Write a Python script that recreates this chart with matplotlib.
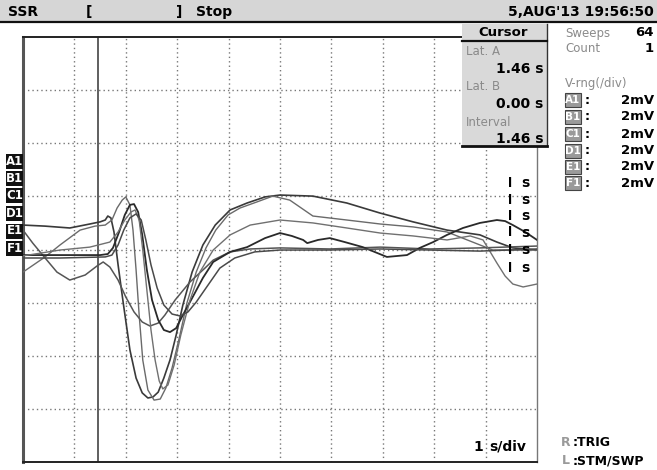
import matplotlib
matplotlib.use('Agg')
import matplotlib.pyplot as plt
from matplotlib.patches import Rectangle
from matplotlib.lines import Line2D

W, H = 657, 470
NARROW = ['Liberation Sans Narrow', 'DejaVu Sans']

# six averaged traces, time in s, amplitude in mV (2 mV/div, 1 s/div)
t_a = [0, 0.43, 0.91, 1.30, 1.50, 1.60, 1.65, 1.71, 1.77, 1.85, 1.95, 2.08, 2.20, 2.32, 2.43, 2.53, 2.63, 2.74, 2.86,
       2.98, 3.11, 3.29, 3.50, 3.74, 4.03, 4.36, 4.71, 5.00, 5.64, 6.30, 6.95, 7.59, 8.25, 8.89, 9.22, 9.53, 10.00]
v_a = [0.92, 0.88, 0.81, 0.96, 1.04, 1.11, 1.26, 1.19, 0.66, -0.58, -2.01, -3.78, -4.84, -5.40, -5.59, -5.55, -5.37,
       -4.84, -4.16, -3.22, -2.09, -0.85, 0.17, 0.92, 1.49, 1.75, 1.98, 2.05, 2.01, 1.75, 1.37, 1.04, 0.73, 0.55, 0.28,
       0.06, -0.02]

t_b = [0, 0.43, 0.72, 1.11, 1.40, 1.60, 1.73, 1.83, 1.93, 2.00, 2.08, 2.14, 2.20, 2.26, 2.33, 2.43, 2.55, 2.67, 2.78,
       2.90, 3.04, 3.19, 3.37, 3.56, 3.75, 3.99, 4.22, 4.55, 4.86, 5.19, 5.64, 6.30, 6.95, 7.59, 8.25, 9.14, 10.00]
v_b = [-0.85, -0.28, 0.17, 0.73, 0.88, 0.92, 1.11, 1.56, 1.86, 1.98, 1.68, 0.73, -0.77, -2.47, -4.16, -5.29, -5.67,
       -5.63, -5.21, -4.46, -3.33, -2.01, -0.85, 0.06, 0.73, 1.30, 1.56, 1.79, 2.01, 1.86, 1.26, 1.11, 0.96, 0.85, 0.66,
       -0.02, -0.02]

t_c = [0, 0.19, 0.43, 0.66, 0.91, 1.21, 1.44, 1.56, 1.69, 1.85, 2.00, 2.16, 2.32, 2.47, 2.63, 2.76, 2.96, 3.25, 3.54,
       3.70, 4.03, 4.42, 5.00, 5.97, 6.95, 7.92, 8.89, 10.00]
v_c = [0.73, 0.24, -0.32, -0.85, -1.15, -0.96, -0.62, -0.47, -0.66, -1.15, -1.79, -2.35, -2.73, -2.88, -2.77, -2.47,
       -1.90, -1.22, -0.70, -0.40, -0.09, 0.02, 0.06, 0.02, 0.09, 0.02, 0.06, 0.13]

t_d = [0, 0.72, 1.50, 1.65, 1.75, 1.87, 1.98, 2.08, 2.16, 2.24, 2.32, 2.41, 2.51, 2.63, 2.74, 2.86, 2.98, 3.11, 3.29,
       3.50, 3.70, 4.03, 4.36, 4.71, 5.00, 5.23, 5.45, 5.53, 5.74, 5.97, 6.26, 6.61, 7.08, 7.47, 7.72, 7.98, 8.25, 8.56,
       8.89, 9.22, 9.38, 9.53, 9.77, 10.00]
v_d = [-0.21, -0.21, -0.21, -0.17, 0.06, 0.66, 1.30, 1.68, 1.71, 1.41, 0.55, -0.77, -1.90, -2.65, -3.03, -3.11, -2.96,
       -2.47, -1.83, -1.07, -0.47, -0.09, 0.09, 0.43, 0.62, 0.51, 0.36, 0.24, 0.36, 0.43, 0.28, 0.09, -0.28, -0.21, 0.06,
       0.28, 0.55, 0.81, 1.00, 1.11, 1.07, 0.92, 0.66, 0.36]

t_e = [0, 0.72, 1.30, 1.69, 1.85, 1.98, 2.10, 2.18, 2.26, 2.33, 2.41, 2.49, 2.57, 2.65, 2.72, 2.82, 2.94, 3.07, 3.25,
       3.44, 3.70, 4.03, 4.42, 5.00, 5.64, 6.30, 6.95, 7.59, 8.25, 8.70, 8.95, 9.09, 9.22, 9.38, 9.53, 9.73, 10.00]
v_e = [-0.24, -0.02, 0.09, 0.28, 0.66, 1.11, 1.41, 1.49, 1.11, -0.02, -1.53, -3.03, -4.16, -4.95, -5.25, -5.10, -4.35,
       -3.22, -1.90, -0.85, -0.02, 0.55, 0.92, 1.11, 1.00, 0.81, 0.62, 0.51, 0.36, 0.51, 0.36, -0.09, -0.51, -1.00,
       -1.30, -1.41, -1.30]

t_f = [0, 0.72, 1.60, 1.73, 1.85, 1.96, 2.08, 2.20, 2.30, 2.39, 2.49, 2.61, 2.74, 2.90, 3.05, 3.21, 3.37, 3.56, 3.83,
       4.12, 4.51, 5.00, 5.97, 6.95, 7.92, 8.89, 10.00]
v_f = [-0.32, -0.32, -0.28, -0.21, 0.17, 0.73, 1.19, 1.34, 1.11, 0.36, -0.58, -1.45, -2.09, -2.43, -2.50, -2.35, -1.98,
       -1.45, -0.70, -0.32, -0.09, -0.02, -0.02, 0.02, -0.02, -0.06, 0.02]

channels = ['A1', 'B1', 'C1', 'D1', 'E1', 'F1']
v_range = ['2mV'] * 6
cursor_a = 1.46
cursor_b = 0.00
sweeps = 64
count = 1


def put(x, y, s, **kw):
    kw.setdefault('va', 'center')
    kw.setdefault('family', NARROW)
    return fig.text(x / W, 1 - y / H, s, **kw)


def box(x0, y0, x1, y1, **kw):
    r = Rectangle((x0 / W, 1 - y1 / H), (x1 - x0) / W, (y1 - y0) / H, transform=fig.transFigure, **kw)
    fig.add_artist(r)


def hline(y, x0, x1, **kw):
    fig.add_artist(Line2D([x0 / W, x1 / W], [1 - y / H, 1 - y / H], transform=fig.transFigure, **kw))


fig = plt.figure(figsize=(W / 100, H / 100), dpi=100)
fig.patch.set_facecolor('white')
ax = fig.add_axes([23 / W, 8 / H, 514 / W, 425 / H])
ax.set_xlim(0, 10)
ax.set_ylim(-8, 8)
ax.set_xticks([])
ax.set_yticks([])
for s in ax.spines.values():
    s.set_linewidth(1.4)
    s.set_color('#222222')
ax.spines['left'].set_color('#555555')
ax.spines['left'].set_linewidth(2.2)
ax.spines['right'].set_color('#777777')
ax.spines['right'].set_linewidth(1.0)

# dotted graticule
for i in range(1, 10):
    ax.axvline(i, color='#777777', lw=1.0, ls=(0, (1, 2.2)), zorder=1)
for j in range(-6, 8, 2):
    ax.axhline(j, color='#777777', lw=1.0, ls=(0, (1, 2.2)), zorder=1)

ax.axvline(cursor_a, color='#444444', lw=1.2, zorder=2)

traces = [(t_a, v_a, '#3a3a3a', 1.2), (t_b, v_b, '#6a6a6a', 1.0), (t_c, v_c, '#555555', 1.1),
          (t_d, v_d, '#2a2a2a', 1.3), (t_e, v_e, '#707070', 1.0), (t_f, v_f, '#4a4a4a', 1.1)]
for t, v, c, lw in traces:
    ax.plot(t, v, color=c, lw=lw, zorder=3)

# header strip
box(0, 0, W, 21, facecolor='#d6d6d6', edgecolor='none')
hline(22, 0, W, color='#111111', lw=1.6)
put(8, 12, 'SSR', fontsize=10, fontweight='bold')
put(86, 12, '[', fontsize=10, fontweight='bold')
put(176, 12, ']', fontsize=10, fontweight='bold')
put(196, 12, 'Stop', fontsize=10, fontweight='bold')
put(654, 12, "5,AUG'13 19:56:50", fontsize=10, fontweight='bold', ha='right')

# cursor readout
box(462, 24, 547, 146, facecolor='#d9d9d9', edgecolor='none', zorder=5)
fig.add_artist(Line2D([547 / W, 547 / W], [1 - 24 / H, 1 - 146 / H], transform=fig.transFigure,
                      color='#333333', lw=1.0, zorder=6))
hline(41, 462, 547, color='#111111', lw=1.6, zorder=6)
hline(146, 462, 547, color='#111111', lw=2.0, zorder=6)
put(503, 32, 'Cursor', fontsize=9.5, fontweight='bold', ha='center', zorder=7)
put(466, 52, 'Lat. A', fontsize=8.5, color='#8a8a8a', zorder=7)
put(543, 69, f'{cursor_a:.2f} s', fontsize=10, fontweight='bold', ha='right', zorder=7)
put(466, 87, 'Lat. B', fontsize=8.5, color='#8a8a8a', zorder=7)
put(543, 104, f'{cursor_b:.2f} s', fontsize=10, fontweight='bold', ha='right', zorder=7)
put(466, 122, 'Interval', fontsize=8.5, color='#8a8a8a', zorder=7)
put(543, 139, f'{cursor_a - cursor_b:.2f} s', fontsize=10, fontweight='bold', ha='right', zorder=7)

# right panel
put(565, 33, 'Sweeps', fontsize=8.5, color='#8a8a8a')
put(654, 33, str(sweeps), fontsize=9.5, fontweight='bold', ha='right')
put(565, 49, 'Count', fontsize=8.5, color='#8a8a8a')
put(654, 49, str(count), fontsize=9.5, fontweight='bold', ha='right')
put(565, 83, 'V-rng(/div)', fontsize=8.5, color='#8a8a8a')
rows = [100, 117, 134, 151, 167, 183]
for name, rng, y in zip(channels, v_range, rows):
    box(565, y - 7, 581, y + 7, facecolor='#9a9a9a', edgecolor='#444444', lw=0.8)
    put(573, y, name, fontsize=7.5, fontweight='bold', color='white', ha='center')
    put(585, y, ':', fontsize=9, fontweight='bold')
    put(654, y, rng, fontsize=9.5, fontweight='bold', ha='right')

# channel tags on the left edge
tags = [161.5, 178.5, 196, 213.5, 231, 248.5]
for name, y in zip(channels, tags):
    box(6, y - 7.5, 23, y + 7.5, facecolor='#111111', edgecolor='none')
    put(14.5, y, name, fontsize=8.5, fontweight='bold', color='white', ha='center')

# per-channel timebase marks
marks = [183, 200, 216, 233, 250, 268]
for y in marks:
    put(510, y, 'l', fontsize=9, fontweight='bold', ha='center')
    put(525, y, 's', fontsize=10, fontweight='bold', ha='center')

put(478, 447, '1', fontsize=10, fontweight='bold', ha='center')
put(489, 447, 's/div', fontsize=10, fontweight='bold')
put(561, 443, 'R', fontsize=9, fontweight='bold', color='#9a9a9a')
put(573, 443, ':TRIG', fontsize=9, fontweight='bold')
put(562, 461, 'L', fontsize=9, fontweight='bold', color='#9a9a9a')
put(573, 461, ':STM/SWP', fontsize=9, fontweight='bold')

fig.savefig('out.png', dpi=100)
